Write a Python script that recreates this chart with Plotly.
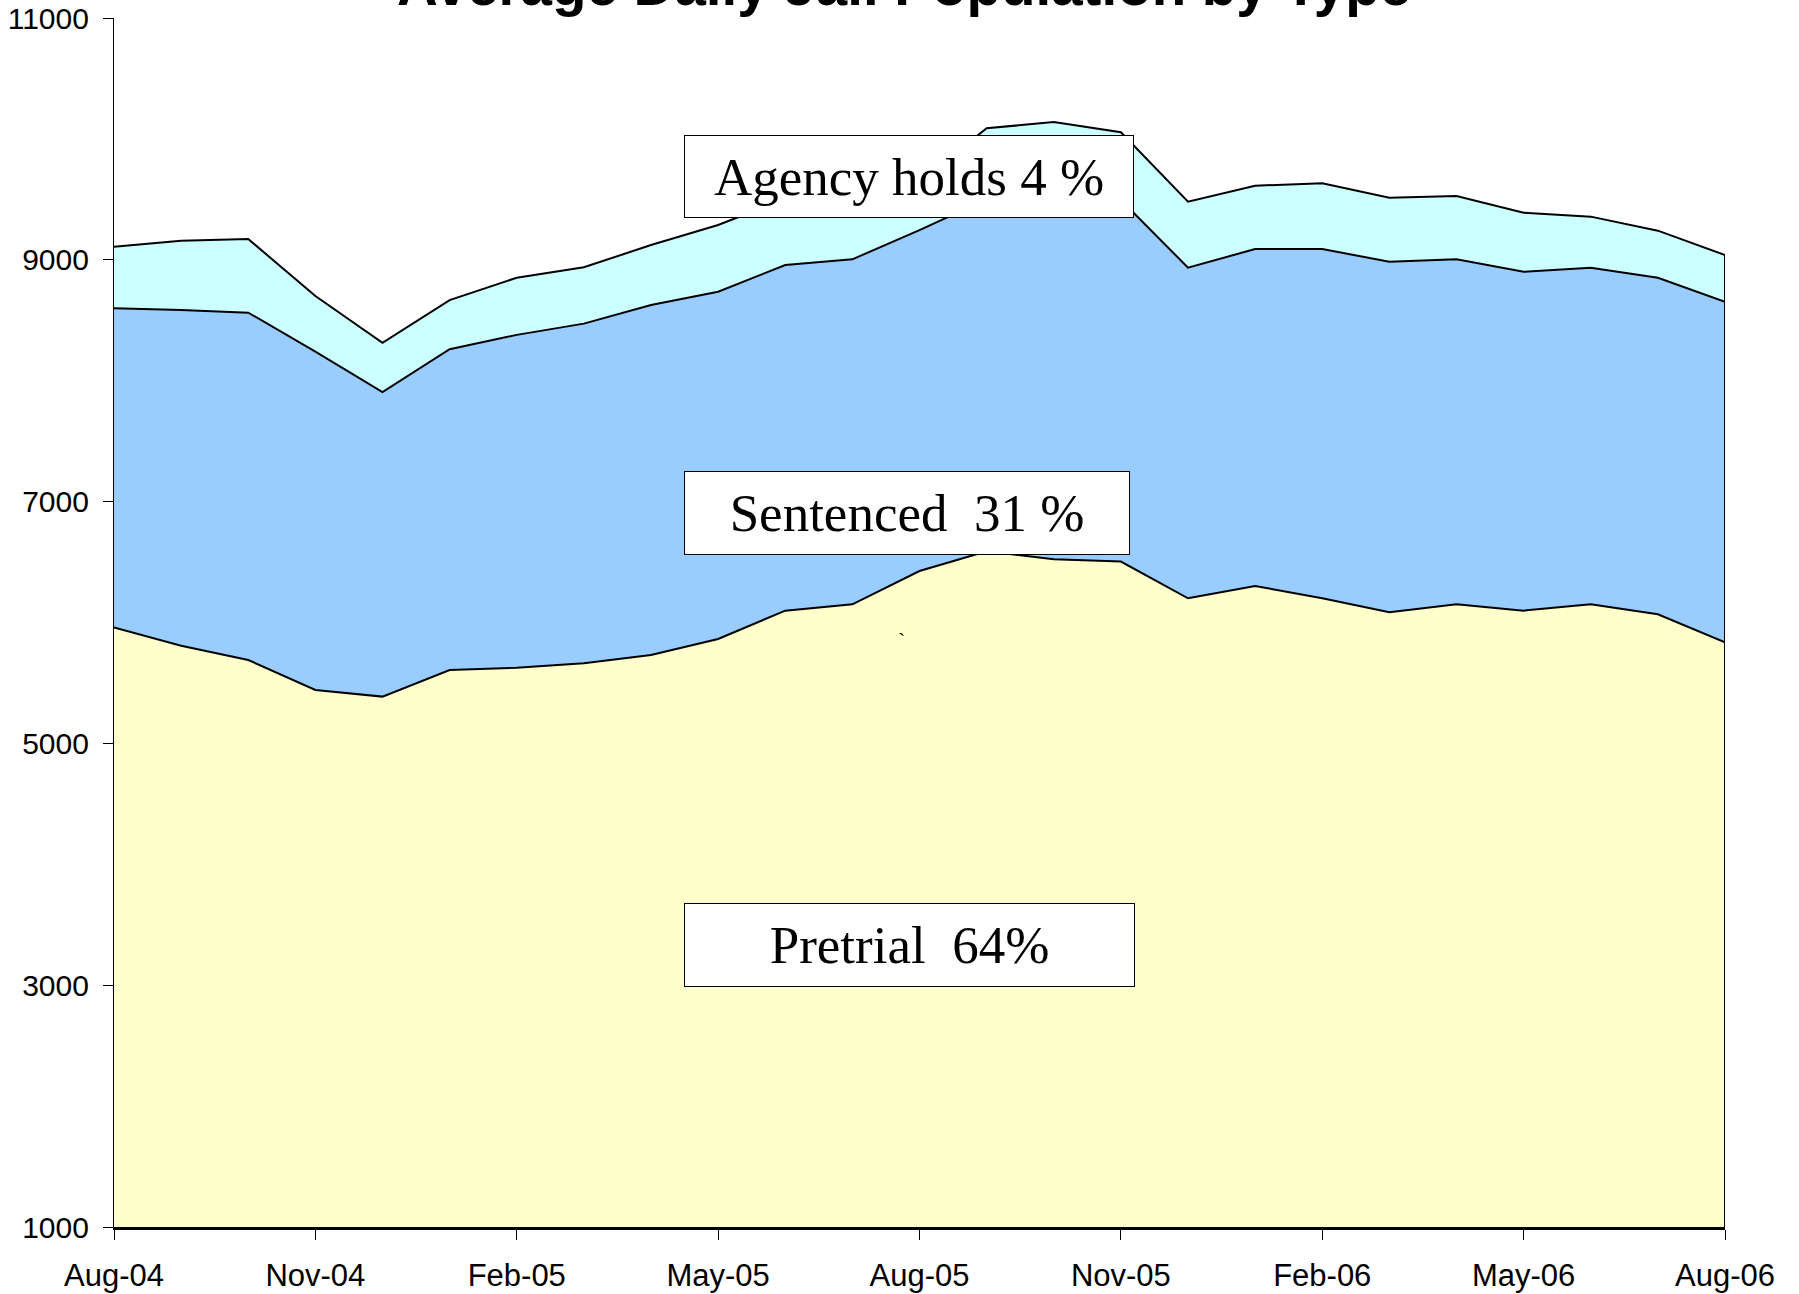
import plotly.graph_objects as go

months = ["Aug-04", "Sep-04", "Oct-04", "Nov-04", "Dec-04", "Jan-05", "Feb-05", "Mar-05",
          "Apr-05", "May-05", "Jun-05", "Jul-05", "Aug-05", "Sep-05", "Oct-05", "Nov-05",
          "Dec-05", "Jan-06", "Feb-06", "Mar-06", "Apr-06", "May-06", "Jun-06", "Jul-06", "Aug-06"]

pretrial = [5960, 5808, 5690, 5442, 5387, 5607, 5626, 5662, 5731, 5864, 6098, 6150, 6426,
            6590, 6523, 6504, 6200, 6302, 6200, 6084, 6150, 6098, 6150, 6068, 5836]
sentenced = [2639, 2777, 2873, 2799, 2518, 2653, 2753, 2810, 2895, 2872, 2859, 2854, 2820,
             2910, 3027, 2991, 2735, 2787, 2889, 2900, 2854, 2803, 2785, 2784, 2817]
agency = [509, 573, 609, 459, 409, 407, 473, 466, 496, 552, 548, 556, 398,
          588, 589, 560, 546, 524, 544, 530, 524, 489, 422, 389, 387]

y_ticks = [1000, 3000, 5000, 7000, 9000, 11000]
x_ticks = months[::3]

title_text = "Average Daily Jail Population by Type"
label_agency = "Agency holds 4 %"
label_sentenced = "Sentenced\u00a0\u00a031 %"
label_pretrial = "Pretrial\u00a0\u00a064%"

Y_MIN, Y_MAX = 1000, 11000

fig = go.Figure()
series = [
    (pretrial, "#FFFFCC", "Pretrial"),
    (sentenced, "#99CCFF", "Sentenced"),
    (agency, "#CCFFFF", "Agency holds"),
]
for vals, color, name in series:
    fig.add_trace(go.Scatter(
        x=months, y=vals, name=name, mode="lines",
        stackgroup="one", fillcolor=color,
        line=dict(color="black", width=2),
    ))

total_last = pretrial[-1] + sentenced[-1] + agency[-1]
fig.add_trace(go.Scatter(
    x=[months[-1], months[-1]], y=[Y_MIN, total_last], mode="lines",
    line=dict(color="black", width=2), showlegend=False, hoverinfo="skip",
))

fig.update_layout(
    width=1799, height=1294,
    margin=dict(l=114, r=74, t=18, b=67),
    paper_bgcolor="white", plot_bgcolor="white",
    showlegend=False,
    font=dict(family="Liberation Sans, Arial, sans-serif", color="black"),
)

fig.update_xaxes(
    type="category", range=[0, len(months) - 1], automargin=False,
    tickmode="array", tickvals=x_ticks, ticktext=x_ticks,
    ticks="outside", ticklen=10, tickwidth=1, tickcolor="black",
    ticklabelstandoff=9, ticklabeloverflow="allow",
    showline=True, linecolor="black", linewidth=2.5,
    showgrid=False, zeroline=False,
    tickfont=dict(size=31, family="Liberation Sans, Arial, sans-serif", color="black"),
)
fig.update_yaxes(
    range=[Y_MIN, Y_MAX], automargin=False,
    tickmode="array", tickvals=y_ticks, ticktext=[str(v) for v in y_ticks],
    ticks="outside", ticklen=10, tickwidth=1, tickcolor="black",
    ticklabelstandoff=8, ticklabeloverflow="allow",
    showline=True, linecolor="black", linewidth=1.2,
    showgrid=False, zeroline=False,
    tickfont=dict(size=30, family="Liberation Sans, Arial, sans-serif", color="black"),
)

box_font = dict(family="Liberation Serif, Times New Roman, serif", size=53, color="black")
for text, xp, yp, w, h in [
    (label_agency, 0.4935, 0.8688, 448, 81),
    (label_sentenced, 0.4924, 0.5904, 444, 82),
    (label_pretrial, 0.4938, 0.2333, 449, 82),
]:
    fig.add_annotation(
        text=text, xref="paper", yref="paper", x=xp, y=yp,
        xanchor="center", yanchor="middle", showarrow=False,
        bgcolor="white", bordercolor="black", borderwidth=1, borderpad=0,
        width=w, height=h, font=box_font, align="center", valign="middle",
    )

fig.add_annotation(
    text="`", xref="paper", yref="paper", x=0.4891, y=0.4855,
    showarrow=False, font=dict(family="Liberation Serif, serif", size=22, color="black"),
)

fig.add_annotation(
    text="<b>" + title_text + "</b>", xref="paper", yref="paper", x=0.4905, y=1,
    xanchor="center", yanchor="bottom", showarrow=False, yshift=-1,
    font=dict(family="Liberation Sans, Arial, sans-serif", size=56.5, color="black"),
)

# remove the browser's default 8px page margin so the figure starts at the window's corner
fig.write_html("out.html", config={"displayModeBar": False},
               post_script="document.body.style.margin='0';")
